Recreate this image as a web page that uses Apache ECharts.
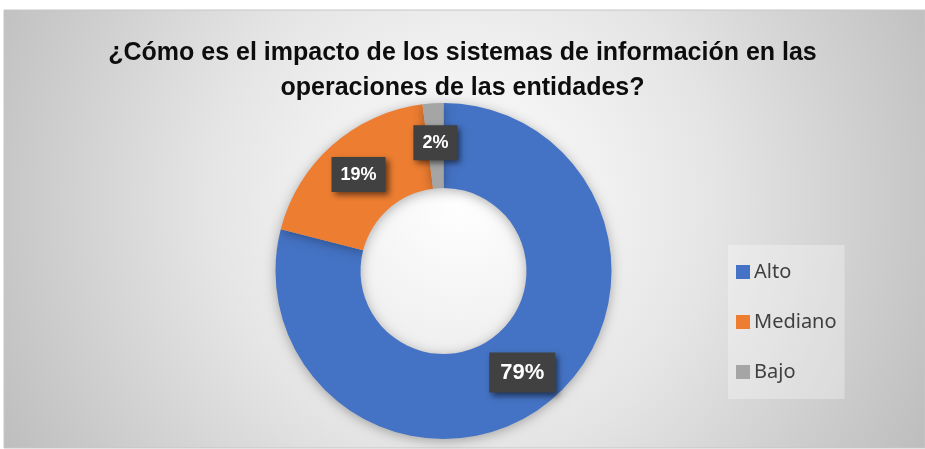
<!DOCTYPE html>
<html>
<head>
<meta charset="utf-8">
<script src="https://cdn.jsdelivr.net/npm/echarts@6/dist/echarts.min.js"></script>
<style>
  html, body { margin: 0; padding: 0; background: #fff; }
  #chart { width: 925px; height: 449px; }
</style>
</head>
<body>
<div id="chart"></div>
<script>
// datos
var categorias = ['Alto', 'Mediano', 'Bajo'];
var valores = [79, 19, 2];
var colores = ['#4472C4', '#ED7D31', '#A5A5A5'];
var tamLetra = [22, 18, 18];
var titulo = '¿Cómo es el impacto de los sistemas de información en las\noperaciones de las entidades?';

var myChart = echarts.init(document.getElementById('chart'));

var datos = categorias.map(function (c, i) {
  var big = tamLetra[i] > 20;
  return {
    name: c,
    value: valores[i],
    itemStyle: { color: colores[i] },
    label: { fontSize: tamLetra[i], padding: big ? [9, 11, 9, 11] : [9, 9, 8, 9] }
  };
});

var option = {
  backgroundColor: '#ffffff',
  animation: false,
  graphic: [
    {
      type: 'rect',
      z: -10,
      shape: { x: 4, y: 10, width: 921, height: 438 },
      style: {
        fill: {
          type: 'radial', x: 462, y: 200, r: 560, global: true,
          colorStops: [
            { offset: 0, color: '#ffffff' },
            { offset: 0.45, color: '#e5e5e5' },
            { offset: 1, color: '#b8b8b8' }
          ]
        },
        stroke: '#c6c6c6',
        lineWidth: 1
      }
    }
  ],
  title: {
    text: titulo,
    left: 'center',
    top: 31,
    textStyle: {
      fontFamily: 'Liberation Sans',
      fontWeight: 'bold',
      fontSize: 25,
      lineHeight: 35,
      color: '#0d0d0d'
    }
  },
  legend: {
    orient: 'vertical',
    left: 728,
    top: 245,
    padding: [17, 8, 17, 8],
    itemGap: 30,
    itemWidth: 14,
    itemHeight: 14,
    icon: 'rect',
    backgroundColor: 'rgba(255,255,255,0.3)',
    textStyle: { fontFamily: 'Noto Sans', fontSize: 20, color: '#404040', padding: [0, 0, 0, -1] },
    data: categorias
  },
  series: [
    {
      type: 'pie',
      center: [443.5, 271],
      radius: [83, 168],
      startAngle: 90,
      clockwise: true,
      avoidLabelOverlap: false,
      itemStyle: {
        shadowBlur: 12,
        shadowColor: 'rgba(0,0,0,0.3)',
        shadowOffsetY: 2
      },
      label: {
        show: true,
        position: 'inside',
        formatter: '{d}%',
        fontFamily: 'Liberation Sans',
        fontWeight: 'bold',
        color: '#ffffff',
        backgroundColor: '#414141',
        shadowColor: 'rgba(0,0,0,0.55)',
        shadowBlur: 6,
        shadowOffsetX: 3,
        shadowOffsetY: 3
      },
      labelLine: { show: false },
      emphasis: { disabled: true },
      data: datos
    }
  ]
};

myChart.setOption(option);
</script>
</body>
</html>
